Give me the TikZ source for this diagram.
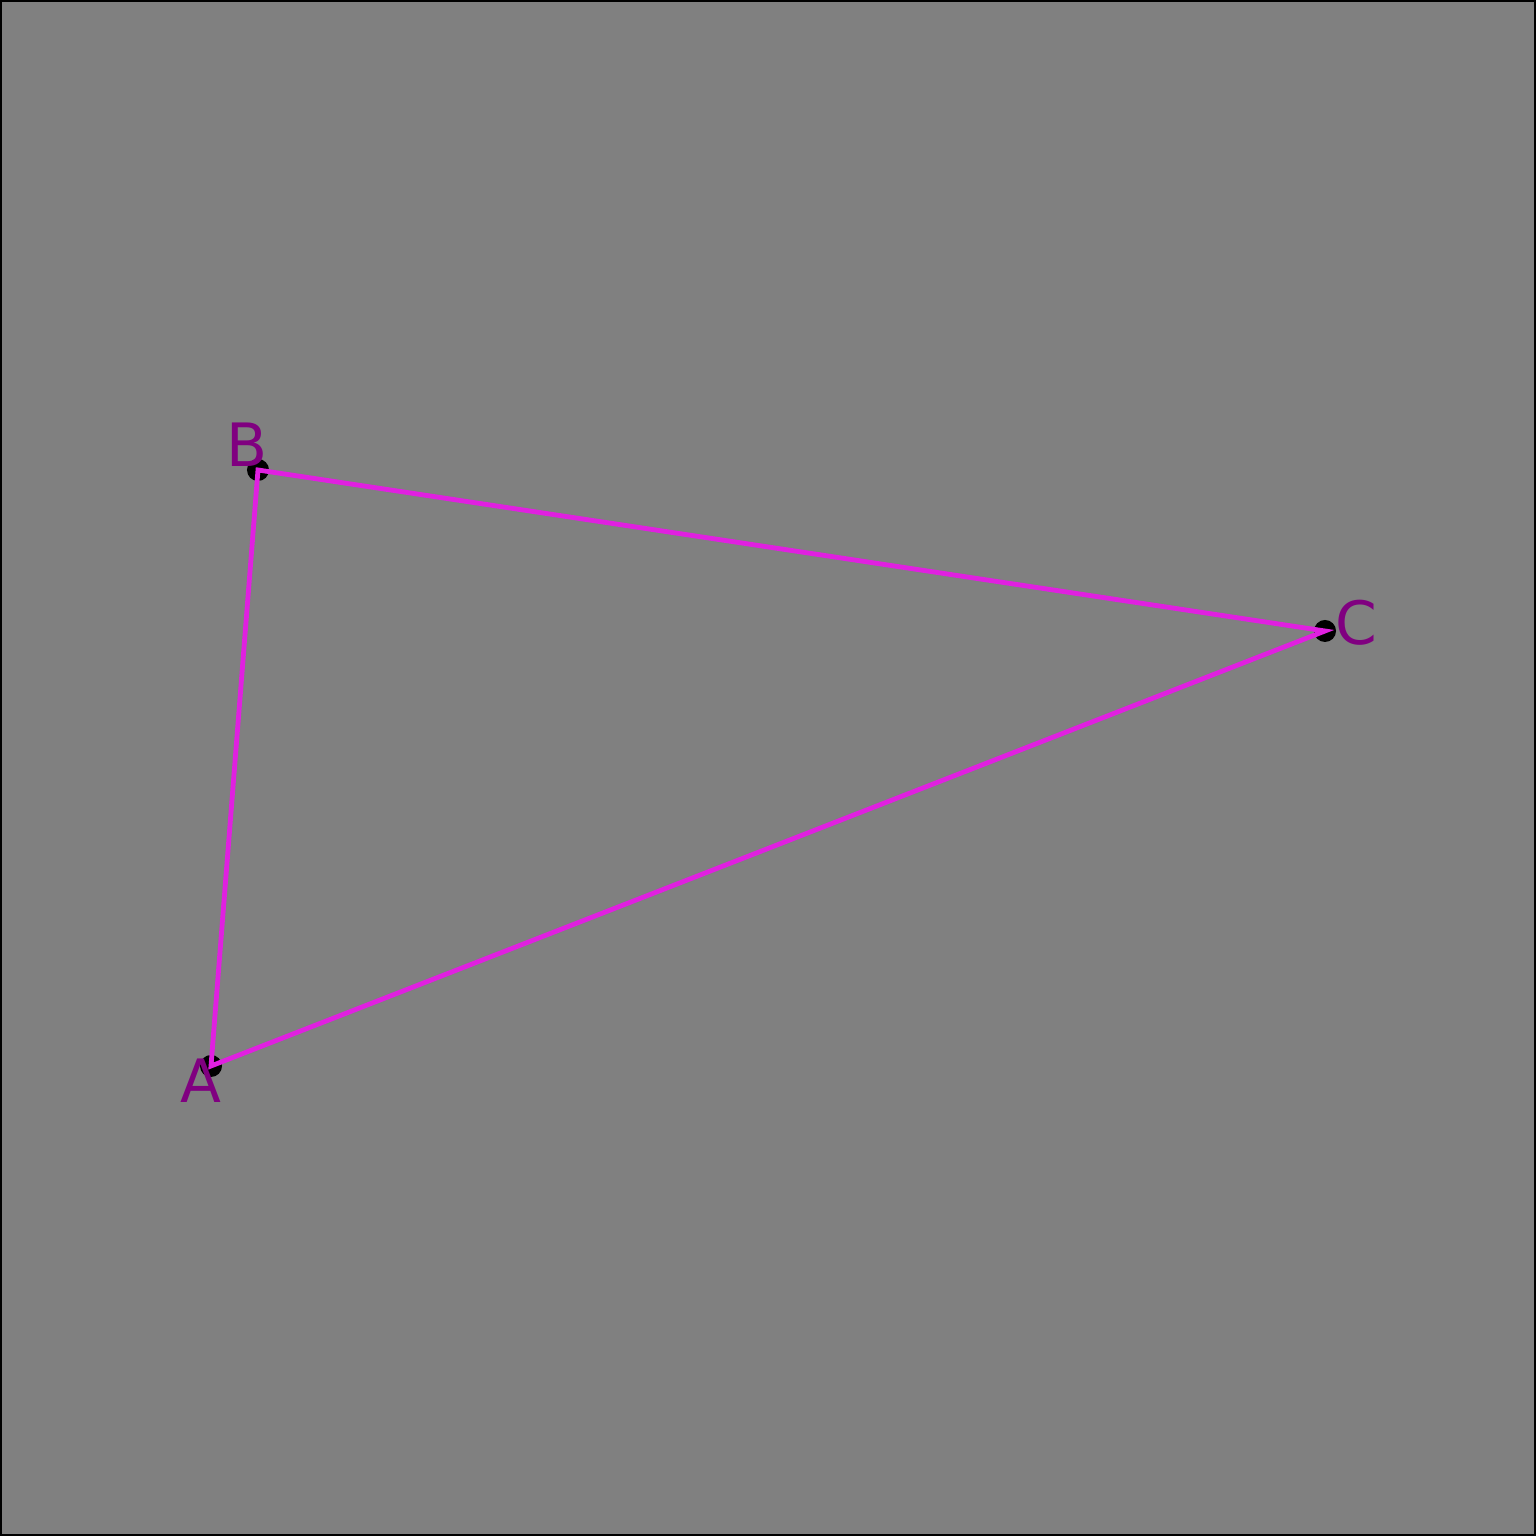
\documentclass[tikz,border=0pt]{standalone}
\usepackage{fontspec}
\newfontfamily\lblfont{DejaVu Sans}
\definecolor{edgemag}{RGB}{224,32,224}
\definecolor{lblpurple}{RGB}{128,0,128}
\begin{document}
\begin{tikzpicture}[x = .01cm, y = .01cm,
	vertex/.style = {circle, fill = black, inner sep = 0pt, minimum size = .22cm},
	side/.style = {draw = edgemag, line width = .048cm},
	lbl/.style = {text = lblpurple, inner sep = 0pt, anchor = base, font = \lblfont\fontsize{17}{20}\selectfont}]
	\useasboundingbox (0,0) rectangle (1536,1536);
	\draw[fill = gray, line width = .02cm] (1,1) rectangle (1535,1535); %background
	\node[vertex] (A) at (211,470) {};
	\node[vertex] (B) at (258,1066) {};
	\node[vertex] (C) at (1325,905) {};
	\draw[side] (A.center)--(B.center)--(C.center)--cycle; %triangle
	\node[lbl] (lA) at (201,433) {A};
	\node[lbl] (lB) at (247,1069) {B};
	\node[lbl] (lC) at (1356,891) {C};
\end{tikzpicture}
\end{document}
